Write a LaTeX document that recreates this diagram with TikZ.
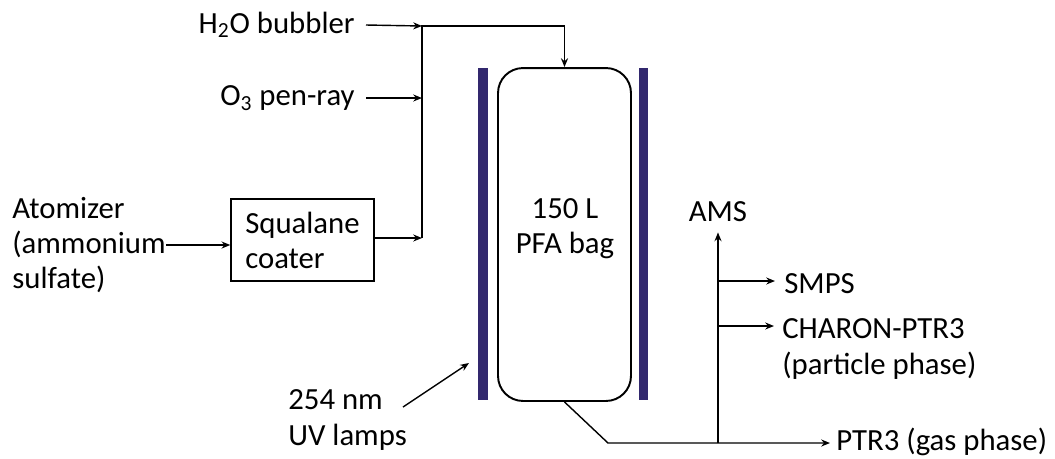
\documentclass[tikz,border=0pt]{standalone}
\usepackage{fontspec}
\setmainfont{Carlito}
\usepackage{tikz}
\usetikzlibrary{arrows.meta,positioning,calc}
\definecolor{lampblue}{RGB}{50,40,110}

\begin{document}
\begin{tikzpicture}[x=0.02cm,y=-0.02cm,>={Stealth[length=5pt,width=4pt]},
  lbl/.style={font=\fontsize{17.5}{20}\selectfont,inner sep=0pt,align=left},
  flow/.style={line width=0.8pt},
  coater/.style={draw,line width=0.8pt,minimum width=2.86cm,minimum height=1.64cm,align=left,font=\fontsize{17.5}{20}\selectfont},
  bagbox/.style={draw,line width=1.1pt,rounded corners=0.5cm,minimum width=2.66cm,minimum height=6.66cm},
  lamp/.style={fill=lampblue,inner sep=0pt,minimum width=0.19cm,minimum height=6.64cm}]
  \useasboundingbox (0,0) rectangle (1055,458);
  % inlets
  \node[lbl,anchor=east] (h2o) at (355,25) {H\textsubscript{2}O bubbler};
  \node[lbl,anchor=east] (o3) at (355,98) {O\textsubscript{3} pen-ray};
  \node[lbl,anchor=west] (atom) at (12,245) {Atomizer\\(ammonium\\sulfate)};
  \node[coater] (sq) at (302.5,240) {Squalane\\coater};
  \coordinate (jtop) at (422,26);
  \coordinate (jo3) at (422,98);
  \coordinate (jsq) at (422,238);
  % chamber
  \node[bagbox] (bag) at (564.5,234.5) {};
  \node[lbl,align=center] (baglbl) at (565,229) {150 L\\PFA bag};
  \node[lamp] (lampL) at (483,234) {};
  \node[lamp] (lampR) at (643.5,234) {};
  \node[lbl,anchor=west] (uv) at (288,420) {254 nm\\UV lamps};
  \coordinate (uvtail) at (403,407);
  \coordinate (uvhead) at (469,363);
  \draw[->,flow] ($(h2o.east)+(11,0)$) -- (jtop);
  \draw[->,flow] ($(o3.east)+(11,0)$) -- (jo3);
  \draw[->,flow] (atom.east) -- (atom.east -| sq.west);
  \draw[->,flow] (sq.east |- jsq) -- (jsq);
  \draw[->,flow] (jsq) -- (jtop) -| (bag.north);
  \draw[->,flow] (uvtail) -- (uvhead);
  % outlets
  \coordinate (bend) at (608,443);
  \coordinate (jams) at (718,443);
  \coordinate (jsmps) at (718,281);
  \coordinate (jchar) at (718,326);
  \node[lbl,anchor=west] (ptr) at (836,442) {PTR3 (gas phase)};
  \node[lbl] (ams) at (718,212) {AMS};
  \node[lbl,anchor=west] (smps) at (784,284) {SMPS};
  \node[lbl,anchor=west] (charon) at (782,349) {CHARON-PTR3\\(particle phase)};
  \draw[->,flow] (bag.south) -- (bend) -- ($(ptr.west |- bend)+(-6,0)$);
  \draw[->,flow] (jams) -- ($(ams.south)+(0,10)$);
  \draw[->,flow] (jsmps) -- ($(jsmps -| smps.west)+(-9,0)$);
  \draw[->,flow] (jchar) -- ($(jchar -| charon.west)+(-8,0)$);
\end{tikzpicture}
\end{document}
